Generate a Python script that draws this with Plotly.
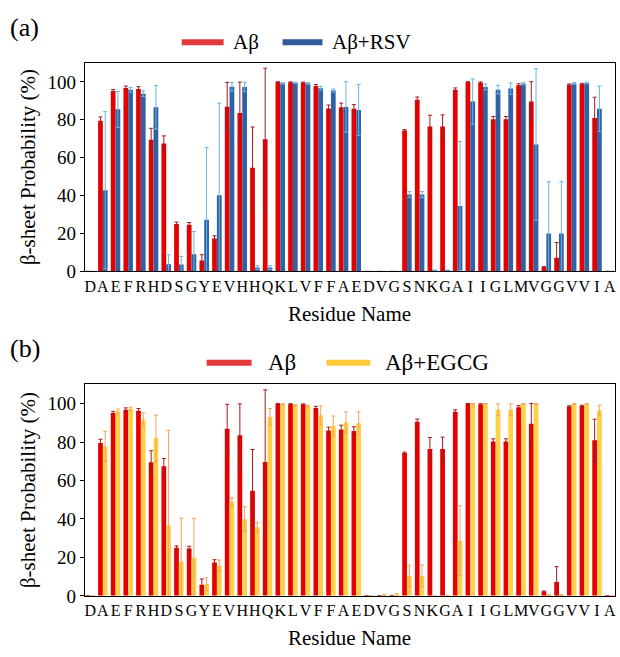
import plotly.graph_objects as go

# Aβ42 sequence, one residue per x position
residues = list("DAEFRHDSGYEVHHQKLVFFAEDVGSNKGAIIGLMVGGVVIA")
positions = list(range(1, 43))

# β-sheet probability (%) per residue, mean and error
ab_mean = [0, 79.5, 95.2, 96.8, 96.3, 69.5, 67.5, 25.0, 24.6, 5.8,
           17.3, 86.9, 83.6, 54.7, 69.7, 99.8, 99.7, 99.6, 97.8, 86.0,
           86.6, 85.8, 0, 0, 0, 74.3, 90.6, 76.4, 76.4, 95.8,
           99.8, 99.6, 80.3, 80.3, 98.2, 89.6, 2.2, 7.2, 98.5, 98.8,
           80.9, 0]
ab_err = [None, 2.0, 0.8, 1.0, 1.2, 6.0, 4.0, 1.0, 1.2, 3.0,
          1.5, 12.8, 16.3, 21.5, 37.5, 0.3, 0.3, 0.3, 0.8, 1.8,
          2.2, 2.2, None, None, None, 0.5, 1.4, 6.0, 6.2, 1.0,
          0.3, 0.4, 1.4, 1.4, 0.8, 10.5, 0.3, 8.0, 0.4, 0.4,
          11.0, None]

rsv_mean = [0, 42.8, 85.5, 95.8, 93.8, 86.6, 3.8, 3.6, 9.0, 27.3,
            40.2, 97.4, 97.3, 2.0, 2.0, 99.2, 99.5, 99.2, 96.6, 95.4,
            86.8, 85.2, 0, 0, 0, 40.6, 40.6, 0.4, 0.4, 34.5,
            89.6, 97.3, 95.9, 96.5, 99.0, 66.9, 20.0, 20.0, 99.2, 99.4,
            85.8, 0]
rsv_err = [None, 41.5, 9.5, 1.3, 1.5, 11.5, 5.0, 4.3, 12.0, 38.0,
           48.5, 2.3, 2.5, 1.0, 1.0, 0.4, 0.3, 0.4, 1.0, 0.8,
           13.3, 13.5, None, None, None, 1.6, 1.6, 0.3, 0.3, 34.0,
           12.0, 1.6, 2.3, 3.0, 0.6, 40.0, 27.3, 27.3, 0.4, 0.4,
           12.0, None]

egcg_mean = [0, 77.8, 96.0, 97.3, 91.8, 82.0, 36.6, 17.8, 19.8, 6.0,
             15.6, 48.8, 39.9, 35.6, 93.2, 99.7, 99.2, 98.9, 94.0, 88.4,
             90.2, 89.8, 0, 0.3, 0.4, 10.3, 10.3, 0, 0, 28.7,
             99.9, 99.9, 96.8, 96.8, 99.9, 99.8, 0.3, 0.3, 99.8, 99.8,
             96.6, 0]
egcg_err = [None, 7.8, 1.2, 0.8, 3.4, 12.0, 49.5, 22.7, 20.5, 3.4,
            3.0, 2.2, 6.5, 2.5, 4.3, 0.3, 0.4, 0.4, 4.8, 5.2,
            5.5, 6.0, None, 0.3, 0.7, 5.7, 5.7, None, None, 18.2,
            0.2, 0.2, 3.1, 3.1, 0.2, 0.3, 0.3, 0.3, 0.2, 0.2,
            2.6, None]

y_ticks = [0, 20, 40, 60, 80, 100]

W, H = 620, 657
FONT = "Times New Roman, Liberation Serif, Tinos, serif"
RED, RED_ERR = "#E60000", "#A8191C"
BLUE, BLUE_ERR = "#2F62A5", "#62B6E6"
YELLOW, YELLOW_ERR = "#FFD048", "#F4A55A"


def px_x(v):
    return v / W


def px_y(v):
    return 1 - v / H


panels = [
    dict(xa="x", ya="y", label="Aβ+RSV", mean=rsv_mean, err=rsv_err,
         color=BLUE, ecolor=BLUE_ERR, top=64, bottom=276),
    dict(xa="x2", ya="y2", label="Aβ+EGCG", mean=egcg_mean, err=egcg_err,
         color=YELLOW, ecolor=YELLOW_ERR, top=391, bottom=606),
]

fig = go.Figure()
for p in panels:
    fig.add_trace(go.Bar(
        x=positions, y=ab_mean, name="Aβ",
        marker=dict(color=RED, line=dict(width=0)),
        error_y=dict(type="data", array=ab_err, color=RED_ERR,
                     thickness=1, width=2),
        xaxis=p["xa"], yaxis=p["ya"], showlegend=False))
    fig.add_trace(go.Bar(
        x=positions, y=p["mean"], name=p["label"],
        marker=dict(color=p["color"], line=dict(width=0)),
        error_y=dict(type="data", array=p["err"], color=p["ecolor"],
                     thickness=1, width=2),
        xaxis=p["xa"], yaxis=p["ya"], showlegend=False))

axis_common = dict(showline=True, linecolor="black", linewidth=1.3,
                   mirror=True, showgrid=False, zeroline=False)

layout_axes = {}
for i, p in enumerate(panels):
    sfx = "" if i == 0 else "2"
    layout_axes["xaxis" + sfx] = dict(
        axis_common, domain=[px_x(85), px_x(616)], range=[0.58, 42.42],
        tickmode="array", tickvals=positions, ticktext=residues,
        ticks="", tickangle=0,
        tickfont=dict(family=FONT, size=16, color="black"),
        anchor="y" + sfx)
    layout_axes["yaxis" + sfx] = dict(
        axis_common, domain=[px_y(p["bottom"]), px_y(p["top"])],
        range=[0, 110], tickmode="array", tickvals=y_ticks,
        ticks="outside", ticklen=4, tickcolor="black",
        tickfont=dict(family=FONT, size=19, color="black"),
        anchor="x" + sfx)

annotations = []
shapes = []
legend_specs = [
    (43, [(182, 224, "#E23A3A", "Aβ", 231), (283, 323, "#2E5C9B", "Aβ+RSV", 331)], 21),
    (369, [(207, 252, "#E23A3A", "Aβ", 266), (327, 371, "#FFC93A", "Aβ+EGCG", 384)], 23),
]
for yc, items, fs in legend_specs:
    for x0, x1, col, txt, tx in items:
        shapes.append(dict(type="line", xref="paper", yref="paper",
                           x0=px_x(x0), x1=px_x(x1), y0=px_y(yc), y1=px_y(yc),
                           line=dict(color=col, width=6)))
        annotations.append(dict(text=txt, xref="paper", yref="paper",
                                x=px_x(tx), y=px_y(yc), xanchor="left",
                                yanchor="middle", showarrow=False,
                                font=dict(family=FONT, size=fs, color="black")))

for p, tag, ty in zip(panels, ["(a)", "(b)"], [28, 354]):
    annotations.append(dict(text=tag, xref="paper", yref="paper",
                            x=px_x(8), y=px_y(ty), xanchor="left",
                            yanchor="middle", showarrow=False,
                            font=dict(family=FONT, size=26, color="black")))
    annotations.append(dict(text="β-sheet Probability (%)", xref="paper",
                            yref="paper", x=px_x(28),
                            y=px_y((p["top"] + p["bottom"]) / 2),
                            textangle=-90, showarrow=False,
                            xanchor="center", yanchor="middle",
                            font=dict(family=FONT, size=21, color="black")))
    annotations.append(dict(text="Residue Name", xref="paper", yref="paper",
                            x=px_x(350.5), y=px_y(p["bottom"] + 43),
                            showarrow=False, xanchor="center", yanchor="middle",
                            font=dict(family=FONT, size=21, color="black")))

fig.update_layout(
    width=W, height=H, margin=dict(l=0, r=0, t=0, b=0),
    paper_bgcolor="white", plot_bgcolor="white",
    font=dict(family=FONT, color="black"),
    barmode="group", bargap=0.25, bargroupgap=0,
    showlegend=False, annotations=annotations, shapes=shapes,
    **layout_axes)

fig.write_html("out.html")
